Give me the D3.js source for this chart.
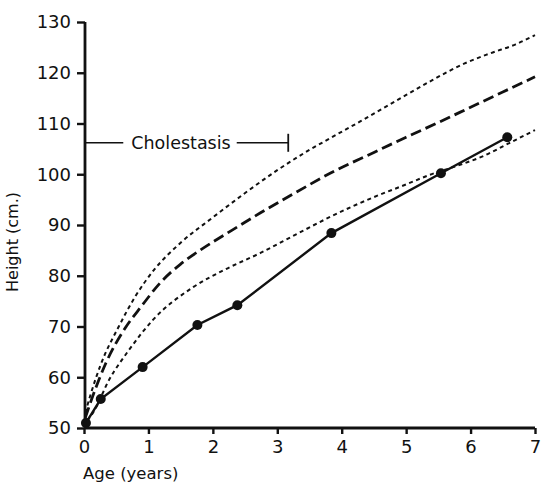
<!DOCTYPE html>
<html>
<head>
<meta charset="utf-8">
<script src="https://cdn.jsdelivr.net/npm/d3@7/dist/d3.min.js"></script>
<style>
  html, body { margin: 0; padding: 0; background: #fff; }
  svg { display: block; }
  text { font-family: "DejaVu Sans", sans-serif; fill: #111; }
</style>
</head>
<body>
<svg id="chart" width="543" height="484"></svg>
<script>
// ---- data ----
const xTicks = [0, 1, 2, 3, 4, 5, 6, 7];
const yTicks = [50, 60, 70, 80, 90, 100, 110, 120, 130];

// patient (solid line with dots): [age years, height cm]
const patientAge    = [0.03, 0.26, 0.91, 1.76, 2.38, 3.84, 5.54, 6.57];
const patientHeight = [51.0, 55.7, 62.0, 70.3, 74.2, 88.4, 100.2, 107.3];

// upper reference centile (dotted)
const upperAge    = [0.02, 0.1, 0.26, 0.54, 0.8, 1.09, 1.5, 2.0, 2.5, 3.0, 3.5, 3.82, 4.3, 4.86, 5.4, 5.9, 6.3, 6.7, 7.0];
const upperHeight = [53.0, 56.5, 62.5, 70.0, 76.0, 81.2, 86.5, 91.5, 96.3, 100.8, 104.8, 107.1, 110.5, 114.6, 118.5, 121.8, 123.8, 125.6, 127.4];

// median (dashed)
const medianAge    = [0.02, 0.1, 0.34, 0.65, 0.88, 1.19, 1.5, 1.81, 2.3, 2.74, 3.3, 3.82, 4.5, 5.0, 5.5, 6.0, 6.5, 7.0];
const medianHeight = [52.0, 55.0, 62.8, 69.9, 73.8, 78.7, 82.3, 85.1, 89.0, 92.4, 96.5, 100.2, 104.3, 107.3, 110.2, 113.2, 116.2, 119.2];

// lower reference centile (dotted)
const lowerAge    = [0.05, 0.14, 0.39, 0.7, 1.07, 1.7, 2.2, 2.74, 3.3, 3.82, 4.5, 5.0, 5.37, 5.73, 6.2, 6.61, 7.0];
const lowerHeight = [51.5, 53.0, 59.5, 65.4, 71.3, 77.8, 81.3, 84.5, 88.2, 91.6, 95.5, 98.0, 99.9, 101.4, 103.6, 106.2, 108.7];

// cholestasis period annotation
const cholestasisStart = 0;
const cholestasisEnd = 3.17;
const cholestasisLevel = 106.2;
const cholestasisLabel = "Cholestasis";

// ---- drawing ----
const svg = d3.select("#chart");
const x = d3.scaleLinear().domain([0, 7]).range([84, 535]);
const y = d3.scaleLinear().domain([50, 130]).range([428, 22]);

const zip = (a, b) => a.map((v, i) => [v, b[i]]);

const smooth = d3.line().x(d => x(d[0])).y(d => y(d[1])).curve(d3.curveMonotoneX);
const straight = d3.line().x(d => x(d[0])).y(d => y(d[1]));

// reference curves
svg.append("path").attr("d", smooth(zip(upperAge, upperHeight)))
  .attr("fill", "none").attr("stroke", "#111").attr("stroke-width", 2)
  .attr("stroke-dasharray", "4,3.5");
svg.append("path").attr("d", smooth(zip(lowerAge, lowerHeight)))
  .attr("fill", "none").attr("stroke", "#111").attr("stroke-width", 2)
  .attr("stroke-dasharray", "4,3.5");
svg.append("path").attr("d", smooth(zip(medianAge, medianHeight)))
  .attr("fill", "none").attr("stroke", "#111").attr("stroke-width", 2.8)
  .attr("stroke-dasharray", "11,5");

// patient line
const pts = zip(patientAge, patientHeight);
svg.append("path").attr("d", straight(pts))
  .attr("fill", "none").attr("stroke", "#111").attr("stroke-width", 2.4);
svg.selectAll("circle.pt").data(pts).enter().append("circle")
  .attr("class", "pt")
  .attr("cx", d => x(d[0])).attr("cy", d => y(d[1])).attr("r", 5)
  .attr("fill", "#111");

// axes
const yAxis = d3.axisLeft(y).tickValues(yTicks).tickSize(8).tickPadding(6)
  .tickFormat(d3.format("d"));
const gy = svg.append("g").attr("transform", `translate(${x(0) + 1},0)`).call(yAxis);
gy.select(".domain").attr("stroke", "#111").attr("stroke-width", 2.8)
  .attr("d", `M0,${y(130)}V${y(50)}`);
gy.selectAll(".tick line").attr("stroke", "#111").attr("stroke-width", 2.4);
gy.selectAll(".tick text").attr("font-size", 18).attr("font-family", "DejaVu Sans").attr("fill", "#111");

const xAxis = d3.axisBottom(x).tickValues(xTicks).tickSize(6).tickPadding(6)
  .tickFormat(d3.format("d"));
const gx = svg.append("g").attr("transform", `translate(0,${y(50)})`).call(xAxis);
gx.select(".domain").attr("stroke", "#111").attr("stroke-width", 2.8)
  .attr("d", `M${x(0)},0H${x(7)}`);
gx.selectAll(".tick line").attr("stroke", "#111").attr("stroke-width", 2.4);
gx.selectAll(".tick text").attr("font-size", 18).attr("font-family", "DejaVu Sans").attr("fill", "#111");

// axis titles
svg.append("text").attr("x", 83).attr("y", 479).attr("font-size", 16.5)
  .text("Age (years)");
svg.append("text").attr("transform", "translate(18,242) rotate(-90)")
  .attr("text-anchor", "middle").attr("font-size", 16)
  .text("Height (cm.)");

// cholestasis annotation
const cy = y(cholestasisLevel);
const label = svg.append("text").attr("x", 181).attr("y", cy + 6)
  .attr("text-anchor", "middle").attr("font-size", 17.5).text(cholestasisLabel);
const bb = label.node().getBBox();
svg.append("line").attr("x1", x(cholestasisStart)).attr("x2", bb.x - 8)
  .attr("y1", cy).attr("y2", cy).attr("stroke", "#111").attr("stroke-width", 1.6);
svg.append("line").attr("x1", bb.x + bb.width + 6).attr("x2", x(cholestasisEnd))
  .attr("y1", cy).attr("y2", cy).attr("stroke", "#111").attr("stroke-width", 1.6);
svg.append("line").attr("x1", x(cholestasisEnd)).attr("x2", x(cholestasisEnd))
  .attr("y1", cy - 9).attr("y2", cy + 9).attr("stroke", "#111").attr("stroke-width", 1.8);
</script>
</body>
</html>
